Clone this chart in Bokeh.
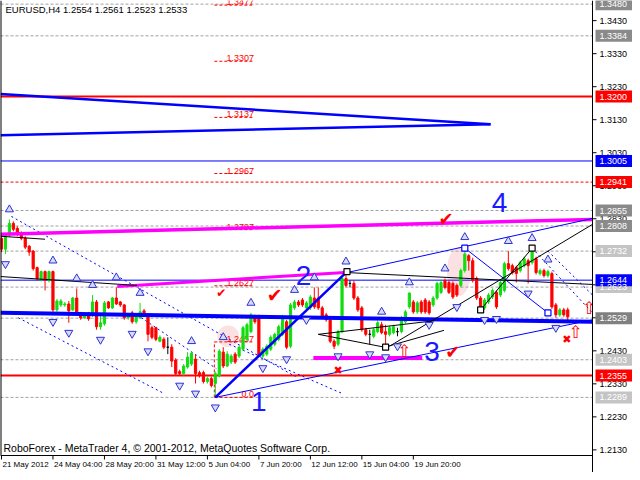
from bokeh.plotting import figure
from bokeh.models import Range1d, ColumnDataSource
from bokeh.embed import file_html
from bokeh.resources import INLINE
from bokeh.core.properties import value

FONT = "Liberation Sans"

# ---------------- data (EURUSD H4) ----------------
opens = [1.2771,1.2738,1.2780,1.2816,1.2801,1.2786,1.2771,1.2747,1.2732,1.2682,
         1.2646,1.2670,1.2643,1.2670,1.2554,1.2569,1.2569,1.2572,1.2554,1.2590,
         1.2545,1.2530,1.2542,1.2539,1.2578,1.2503,1.2512,1.2578,1.2560,1.2590,
         1.2578,1.2569,1.2530,1.2545,1.2518,1.2530,1.2551,1.2533,1.2500,1.2500,
         1.2459,1.2465,1.2441,1.2441,1.2402,1.2367,1.2361,1.2381,1.2390,1.2405,
         1.2364,1.2364,1.2337,1.2346,1.2331,1.2355,1.2426,1.2384,1.2396,1.2420,
         1.2414,1.2435,1.2465,1.2488,1.2533,1.2533,1.2414,1.2420,1.2435,1.2450,
         1.2465,1.2480,1.2518,1.2444,1.2560,1.2578,1.2584,1.2560,1.2560,1.2590,
         1.2590,1.2560,1.2539,1.2524,1.2459,1.2450,1.2488,1.2649,1.2634,1.2634,
         1.2590,1.2560,1.2494,1.2480,1.2474,1.2488,1.2509,1.2488,1.2480,1.2485,
         1.2488,1.2488,1.2518,1.2563,1.2578,1.2548,1.2578,1.2584,1.2578,1.2569,
         1.2590,1.2607,1.2643,1.2637,1.2634,1.2628,1.2628,1.2673,1.2718,1.2703,
         1.2649,1.2590,1.2560,1.2578,1.2593,1.2607,1.2599,1.2613,1.2694,1.2688,
         1.2682,1.2673,1.2688,1.2703,1.2697,1.2709,1.2664,1.2673,1.2658,1.2664,
         1.2569,1.2539,1.2554,1.2554]
highs = [1.2783,1.2786,1.2828,1.2822,1.2807,1.2792,1.2777,1.2750,1.2735,1.2685,
         1.2673,1.2673,1.2673,1.2673,1.2587,1.2587,1.2578,1.2581,1.2593,1.2619,
         1.2548,1.2545,1.2548,1.2599,1.2584,1.2545,1.2581,1.2581,1.2593,1.2622,
         1.2581,1.2572,1.2545,1.2551,1.2539,1.2575,1.2557,1.2539,1.2506,1.2503,
         1.2477,1.2471,1.2471,1.2450,1.2408,1.2373,1.2390,1.2426,1.2429,1.2420,
         1.2370,1.2370,1.2352,1.2352,1.2367,1.2435,1.2441,1.2429,1.2420,1.2426,
         1.2447,1.2506,1.2515,1.2545,1.2539,1.2539,1.2441,1.2450,1.2477,1.2485,
         1.2509,1.2539,1.2524,1.2575,1.2584,1.2584,1.2590,1.2581,1.2599,1.2622,
         1.2622,1.2566,1.2545,1.2530,1.2465,1.2494,1.2655,1.2670,1.2643,1.2643,
         1.2596,1.2566,1.2500,1.2494,1.2500,1.2521,1.2518,1.2509,1.2506,1.2509,
         1.2500,1.2536,1.2554,1.2607,1.2584,1.2581,1.2584,1.2590,1.2584,1.2596,
         1.2640,1.2643,1.2649,1.2643,1.2640,1.2634,1.2679,1.2744,1.2723,1.2712,
         1.2655,1.2596,1.2590,1.2605,1.2619,1.2613,1.2643,1.2700,1.2732,1.2694,
         1.2688,1.2703,1.2715,1.2709,1.2741,1.2715,1.2679,1.2679,1.2676,1.2670,
         1.2575,1.2560,1.2560,1.2561]
lows = [1.2729,1.2723,1.2774,1.2792,1.2777,1.2765,1.2738,1.2718,1.2673,1.2643,
        1.2640,1.2613,1.2637,1.2548,1.2548,1.2563,1.2563,1.2515,1.2551,1.2539,
        1.2524,1.2527,1.2521,1.2533,1.2494,1.2494,1.2506,1.2557,1.2557,1.2569,
        1.2563,1.2524,1.2524,1.2512,1.2512,1.2527,1.2536,1.2459,1.2465,1.2459,
        1.2456,1.2435,1.2420,1.2381,1.2355,1.2355,1.2355,1.2376,1.2384,1.2331,
        1.2349,1.2331,1.2331,1.2319,1.2289,1.2349,1.2378,1.2381,1.2390,1.2390,
        1.2408,1.2429,1.2459,1.2483,1.2512,1.2411,1.2408,1.2414,1.2429,1.2444,
        1.2459,1.2474,1.2435,1.2438,1.2554,1.2563,1.2563,1.2554,1.2554,1.2557,
        1.2554,1.2527,1.2518,1.2453,1.2435,1.2444,1.2483,1.2622,1.2622,1.2584,
        1.2548,1.2488,1.2474,1.2450,1.2468,1.2483,1.2480,1.2441,1.2474,1.2480,
        1.2474,1.2483,1.2512,1.2557,1.2542,1.2542,1.2542,1.2542,1.2539,1.2563,
        1.2584,1.2602,1.2616,1.2602,1.2587,1.2593,1.2622,1.2667,1.2673,1.2637,
        1.2584,1.2554,1.2554,1.2572,1.2587,1.2557,1.2593,1.2607,1.2673,1.2661,
        1.2637,1.2667,1.2682,1.2634,1.2691,1.2661,1.2658,1.2652,1.2652,1.2557,
        1.2530,1.2533,1.2533,1.2523]
closes = [1.2738,1.2780,1.2816,1.2798,1.2783,1.2771,1.2744,1.2729,1.2679,1.2649,
          1.2670,1.2643,1.2670,1.2554,1.2581,1.2581,1.2572,1.2551,1.2590,1.2542,
          1.2530,1.2539,1.2527,1.2578,1.2503,1.2515,1.2575,1.2560,1.2590,1.2572,
          1.2569,1.2530,1.2539,1.2518,1.2533,1.2548,1.2542,1.2480,1.2471,1.2465,
          1.2471,1.2441,1.2441,1.2399,1.2361,1.2361,1.2384,1.2411,1.2423,1.2361,
          1.2355,1.2337,1.2346,1.2325,1.2361,1.2429,1.2384,1.2420,1.2414,1.2396,
          1.2441,1.2500,1.2509,1.2539,1.2518,1.2414,1.2435,1.2444,1.2471,1.2480,
          1.2503,1.2530,1.2441,1.2569,1.2578,1.2569,1.2569,1.2575,1.2593,1.2563,
          1.2560,1.2533,1.2524,1.2459,1.2444,1.2488,1.2649,1.2628,1.2634,1.2590,
          1.2554,1.2494,1.2480,1.2480,1.2494,1.2515,1.2485,1.2480,1.2500,1.2503,
          1.2488,1.2530,1.2548,1.2605,1.2548,1.2575,1.2548,1.2548,1.2545,1.2590,
          1.2634,1.2637,1.2622,1.2607,1.2593,1.2599,1.2673,1.2723,1.2703,1.2643,
          1.2590,1.2560,1.2584,1.2599,1.2613,1.2563,1.2637,1.2694,1.2679,1.2667,
          1.2664,1.2697,1.2709,1.2688,1.2738,1.2667,1.2673,1.2658,1.2670,1.2563,
          1.2539,1.2554,1.2539,1.2533]

date_tick_bars = [0, 13, 26, 39, 52, 65, 78, 91, 104]
date_tick_labels = ["21 May 2012", "24 May 04:00", "28 May 20:00", "31 May 12:00",
                    "5 Jun 04:00", "7 Jun 20:00", "12 Jun 12:00", "15 Jun 04:00",
                    "19 Jun 20:00"]
price_ticks = [1.2130, 1.2230, 1.2330, 1.2430, 1.2530, 1.2630, 1.2730,
               1.2830, 1.2930, 1.3030, 1.3130, 1.3230, 1.3330, 1.3430]

# horizontal level lines
red_solid_levels = [1.3200, 1.2355]
blue_thin_levels = [1.3005, 1.2644]
gray_dash_levels = [1.3480, 1.3384, 1.2855, 1.2808, 1.2732, 1.2623, 1.2529, 1.2403, 1.2289]
red_dash_levels = [1.2941]

# price boxes on the right scale
box_levels = [1.3480, 1.3384, 1.3200, 1.3005, 1.2941, 1.2855, 1.2808, 1.2732,
              1.2623, 1.2644, 1.2529, 1.2403, 1.2355, 1.2289]
box_colors = ["#8a8a8a", "#8a8a8a", "#ff0000", "#0000ff", "#ff0000", "#8a8a8a",
              "#8a8a8a", "#c4c4c4", "#c4c4c4", "#0000ff", "#808080", "#c4c4c4",
              "#ff0000", "#c4c4c4"]

# Fibonacci levels
fib_levels = [1.2289, 1.2457, 1.2627, 1.2797, 1.2967, 1.3137, 1.3307, 1.3477]
fib_labels = ["0.0", "1.2457", "1.2627", "1.2797", "1.2967", "1.3137", "1.3307", "1.3477"]
fib_x0, fib_x1 = 53.75, 63.75
fib_base = [1.2289, 1.2457]

# trend lines (bar index, price)
wedge_x0 = [-0.25, -0.25]; wedge_y0 = [1.3208, 1.3083]
wedge_x1 = [123.5, 123.5]; wedge_y1 = [1.3116, 1.3116]
base_x = [-0.25, 149.25]; base_y = [1.2545, 1.2518]
magenta_up_x = [-0.25, 149.25]; magenta_up_y = [1.2783, 1.2828]
magenta_lo_x = [29.25, 86.75]; magenta_lo_y = [1.2625, 1.2667]
magenta_flat_x = [78.75, 106.25]; magenta_flat_y = [1.2408, 1.2408]
wave_x = [54, 87.25]; wave_y = [1.2289, 1.2670]
chan_x0 = [54, 87.25, 117]; chan_y0 = [1.2289, 1.2667, 1.2741]
chan_x1 = [149.25, 149.25, 138]; chan_y1 = [1.2524, 1.2831, 1.2545]
black_x0 = [-0.25, -0.25, 87.25, 98, 121, 80, 80, 96.75]
black_y0 = [1.2777, 1.2655, 1.2667, 1.2444, 1.2554, 1.2480, 1.2480, 1.2441]
black_x1 = [11, 34.25, 149.25, 149.25, 134, 109.25, 96.75, 111.75]
black_y1 = [1.2768, 1.2628, 1.2631, 1.2813, 1.2741, 1.2521, 1.2441, 1.2492]
dot_x0 = [2.5, 4.25, 34.25, 57.5, 134, 138]
dot_y0 = [1.2837, 1.2530, 1.2539, 1.2450, 1.2741, 1.2732]
dot_x1 = [74.25, 41, 54.25, 86, 149.25, 149.25]
dot_y1 = [1.2352, 1.2301, 1.2376, 1.2301, 1.2545, 1.2599]

# fractals (bar indices)
up_fractals = [2, 13, 19, 23, 29, 35, 48, 56, 63, 74, 79, 87, 96, 103, 112, 117, 128, 134, 138]
down_fractals = [1, 13, 17, 25, 33, 37, 45, 49, 54, 66, 72, 77, 85, 93, 97, 100, 108,
                 115, 122, 125, 133, 140]

# markers & annotations
square_x = [87.25, 97, 117, 121, 134, 138]
square_y = [1.2670, 1.2441, 1.2741, 1.2554, 1.2741, 1.2545]
square_c = ["black", "black", "blue", "black", "black", "blue"]
ell_x = [57.25, 115.5]; ell_y = [1.2474, 1.2670]
ell_w = [5.5, 6.0]; ell_h = [0.0065, 0.0149]
wave_lbl_x = [65, 76.25, 108.75, 125.75]
wave_lbl_y = [1.2277, 1.2658, 1.2429, 1.2878]
wave_lbl = ["1", "2", "3", "4"]
check_x = [55.5, 69, 112.25, 114]
check_y = [1.2605, 1.2599, 1.2831, 1.2429]
check_s = ["12px", "19px", "18px", "18px"]
cross_x = [85, 142.75]; cross_y = [1.2370, 1.2464]
arrow_x = [101.75, 145, 148.4]; arrow_y = [1.2429, 1.2488, 1.2560]

title_text = "EURUSD,H4  1.2554 1.2561 1.2523 1.2533"
footer_text = "RoboForex - MetaTrader 4, \u00a9 2001-2012, MetaQuotes Software Corp."

# ---------------- geometry of the MT4 window ----------------
FW, FH = 632, 472          # whole canvas (frame covers everything, MT4-style scales drawn inside)
CW, CH = 592, 455          # chart area inside it
XL, XR = -0.25, 149.25     # bar range of the chart area
YB, YT = 1.2113, 1.3491    # price range of the chart area
kx = CW / (XR - XL)        # px per bar
ky = CH / (YT - YB)        # px per price unit
x_end = XL + FW / kx
y_start = YB - (FH - CH) / ky

p = figure(width=FW, height=FH, x_range=Range1d(XL, x_end), y_range=Range1d(y_start, YT),
           output_backend="svg", toolbar_location=None,
           x_axis_location=None, y_axis_location=None,
           min_border_left=0, min_border_top=0, min_border_right=0, min_border_bottom=0)
p.background_fill_color = "white"
p.border_fill_color = "white"
p.outline_line_color = None
p.xgrid.visible = False
p.ygrid.visible = False

def hlines(levels, **kw):
    p.segment(x0=[XL] * len(levels), x1=[XR] * len(levels), y0=levels, y1=levels, **kw)

# pink highlight ellipses
p.ellipse(x=ell_x, y=ell_y, width=ell_w, height=ell_h, fill_color="#fadada",
          fill_alpha=0.8, line_color=None)

# level lines
hlines(gray_dash_levels, line_color="#a0a0a0", line_width=1, line_dash="3 2")
hlines(red_dash_levels, line_color="#ff0000", line_width=1, line_dash="3 2")
hlines(blue_thin_levels, line_color="#0000ff", line_width=1)
hlines(red_solid_levels, line_color="#ff0000", line_width=2)

# Fibonacci
p.segment(x0=[fib_x0] * len(fib_levels), x1=[fib_x1] * len(fib_levels),
          y0=fib_levels, y1=fib_levels, line_color="#ff0000", line_dash="3 2", line_width=1)
p.segment(x0=[fib_x0], x1=[fib_x0], y0=[fib_base[0]], y1=[fib_base[1]],
          line_color="#ff0000", line_dash="3 2", line_width=1)
p.text(x=[fib_x1] * len(fib_levels), y=fib_levels, text=fib_labels,
       text_font=value(FONT), text_font_size="9px", text_color="#ff0000",
       text_align="right", text_baseline="bottom")

# dotted channel lines
p.segment(x0=dot_x0, y0=dot_y0, x1=dot_x1, y1=dot_y1, line_color="#0000ff",
          line_width=1, line_dash="2 3")

# candles
n = len(opens)
idx = list(range(n))
colors = []
for o, c in zip(opens, closes):
    if c > o:
        colors.append("#11dd11")
    elif c < o:
        colors.append("#ff0000")
    else:
        colors.append("#000000")
src = ColumnDataSource(dict(x=idx, o=opens, h=highs, l=lows, c=closes,
                            top=[max(a, b) for a, b in zip(opens, closes)],
                            bot=[min(a, b) for a, b in zip(opens, closes)],
                            col=colors))
p.segment(x0="x", x1="x", y0="l", y1="h", line_color="col", line_width=1, source=src)
p.vbar(x="x", width=0.55, top="top", bottom="bot", fill_color="col",
       line_color="col", line_width=1, source=src)

# trend lines
p.segment(x0=wedge_x0, y0=wedge_y0, x1=wedge_x1, y1=wedge_y1, line_color="#0000ff", line_width=2.5)
p.line(base_x, base_y, line_color="#0000ff", line_width=4)
p.line(magenta_up_x, magenta_up_y, line_color="#ff00ff", line_width=3.5)
p.line(magenta_lo_x, magenta_lo_y, line_color="#ff00ff", line_width=3)
p.line(magenta_flat_x, magenta_flat_y, line_color="#ff00ff", line_width=4)
p.line(wave_x, wave_y, line_color="#0000ff", line_width=2.5)
p.segment(x0=chan_x0, y0=chan_y0, x1=chan_x1, y1=chan_y1, line_color="#0000ff", line_width=1)
p.segment(x0=black_x0, y0=black_y0, x1=black_x1, y1=black_y1, line_color="black", line_width=1)

# fractal arrows
p.scatter(x=up_fractals, y=[highs[b] + 0.0030 for b in up_fractals], marker="triangle",
          size=8, fill_color="#d6dcff", line_color="#3030d0", line_width=1)
p.scatter(x=down_fractals, y=[lows[b] - 0.0030 for b in down_fractals],
          marker="inverted_triangle", size=8, fill_color="#d6dcff",
          line_color="#3030d0", line_width=1)

# squares
p.scatter(x=square_x, y=square_y, marker="square", size=6, fill_color="white",
          line_color=square_c, line_width=1.2)

# wave numbers
p.text(x=wave_lbl_x, y=wave_lbl_y, text=wave_lbl, text_font=value(FONT),
       text_font_size="28px", text_color="#1a1aff", text_align="center",
       text_baseline="middle")

# check marks, crosses, arrows
p.text(x=check_x, y=check_y, text=["\u2714"] * len(check_x), text_font=value("DejaVu Sans"),
       text_font_size=check_s, text_color="#ff0000", text_align="center",
       text_baseline="middle")
p.text(x=cross_x, y=cross_y, text=["\u2716"] * len(cross_x), text_font=value("DejaVu Sans"),
       text_font_size="11px", text_color="#ff0000", text_align="center",
       text_baseline="middle")
p.text(x=arrow_x, y=arrow_y, text=["\u21e7"] * len(arrow_x), text_font=value("DejaVu Sans"),
       text_font_size="17px", text_color="#ff0000", text_align="center",
       text_baseline="middle")

# title and footer
p.text(x=[XL], y=[YT], text=[title_text], x_offset=5, y_offset=3,
       text_font=value(FONT), text_font_size="9.5px", text_color="black",
       text_baseline="top", text_align="left")
p.text(x=[XL], y=[YB], text=[footer_text], x_offset=3, y_offset=-2,
       text_font=value(FONT), text_font_size="10.5px", text_color="black",
       text_baseline="bottom", text_align="left")

# ---------------- MT4-style scales (frame edges, ticks, labels) ----------------
p.segment(x0=[XL, XL, XR], y0=[YB, YB, y_start], x1=[XR, XL, XR], y1=[YB, YT, YT],
          line_color="black", line_width=[1, 2, 1])
# time scale
p.segment(x0=date_tick_bars, x1=date_tick_bars, y0=[YB] * len(date_tick_bars),
          y1=[YB - 4 / ky] * len(date_tick_bars), line_color="black", line_width=1)
p.text(x=date_tick_bars, y=[YB] * len(date_tick_bars), text=date_tick_labels,
       x_offset=1, y_offset=4, text_font=value(FONT), text_font_size="8px",
       text_color="black", text_align="left", text_baseline="top")
# price scale
p.segment(x0=[XR] * len(price_ticks), x1=[XR + 4 / kx] * len(price_ticks),
          y0=price_ticks, y1=price_ticks, line_color="black", line_width=1)
p.text(x=[XR] * len(price_ticks), y=price_ticks, text=["%.4f" % v for v in price_ticks],
       x_offset=7, text_font=value(FONT), text_font_size="9px", text_color="black",
       text_align="left", text_baseline="middle")
# coloured price boxes
p.rect(x=[XR + 21.5 / kx] * len(box_levels), y=box_levels, width=37, height=12,
       width_units="screen", height_units="screen", fill_color=box_colors,
       line_color=None)
p.text(x=[XR] * len(box_levels), y=box_levels, text=["%.4f" % v for v in box_levels],
       x_offset=7, text_font=value(FONT), text_font_size="9px", text_color="white",
       text_align="left", text_baseline="middle")

open("out.html", "w").write(file_html(p, INLINE))
